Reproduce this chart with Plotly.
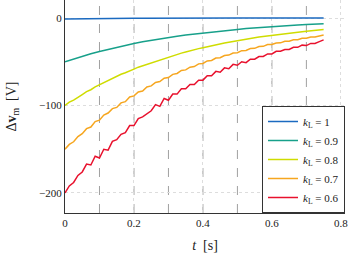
import plotly.graph_objects as go

# coarse time base (s)
t_coarse = [round(0.025 * i, 4) for i in range(31)]
# fine time base (s)
t_fine = [round(0.0125 * i, 4) for i in range(61)]

dv_k10 = [-1.0, -0.8, -0.6, -0.5, -0.4, -0.3, -0.3, -0.2, -0.2, -0.2, -0.1, -0.1, -0.1, -0.1, 0.0, 0.0,
          0.0, 0.0, 0.0, 0.0, 0.0, 0.0, 0.0, 0.0, 0.0, 0.0, 0.0, 0.0, 0.0, 0.0, 0.0]
dv_k09 = [-50, -46.7, -43.7, -40.8, -38.2, -35.7, -33.3, -31.2, -29.1, -27.2, -25.4, -23.8, -22.2, -20.8,
          -19.4, -18.2, -17.0, -15.9, -14.8, -13.9, -13.0, -12.1, -11.3, -10.6, -9.9, -9.2, -8.6, -8.1,
          -7.5, -7.1, -6.6]
dv_k08 = [-100.0, -96.2, -93.8, -90.2, -87.5, -84.2, -82.0, -78.8, -76.4, -73.6, -71.6, -68.8, -66.9, -64.3,
          -62.6, -60.1, -58.4, -56.2, -54.6, -52.5, -50.9, -49.0, -47.6, -45.9, -44.5, -43.0, -41.6, -40.1,
          -38.9, -37.4, -36.4, -35.0, -33.9, -32.7, -31.7, -30.6, -29.6, -28.5, -27.7, -26.7, -25.9, -24.9,
          -24.2, -23.3, -22.6, -21.8, -21.1, -20.4, -19.8, -19.1, -18.5, -17.8, -17.3, -16.7, -16.1, -15.6,
          -15.1, -14.6, -14.1, -13.6, -13.2]
dv_k07 = [-150, -144.5, -141.5, -135.5, -132.2, -126.5, -124.6, -118.4, -116.8, -111.0, -108.6, -103.6,
          -102.2, -97.0, -95.6, -90.2, -89.0, -84.6, -83.4, -78.8, -77.6, -73.6, -72.7, -68.8, -68.0, -64.4,
          -63.4, -60.0, -59.3, -56.2, -55.5, -52.4, -51.9, -49.0, -48.5, -45.8, -45.3, -42.8, -42.4, -40.0,
          -39.6, -37.3, -37.0, -34.9, -34.7, -32.6, -32.4, -30.4, -30.3, -28.5, -28.4, -26.6, -26.6, -24.9,
          -24.8, -23.2, -23.2, -21.7, -21.6, -20.2, -19.4]
dv_k06 = [-200, -192, -188, -180, -176, -167, -168, -158, -160, -150, -151, -141, -139, -133, -131, -123,
          -123, -115, -113, -109, -106, -99, -101, -92, -94, -87, -87, -81, -81, -76, -76, -71, -71, -66, -66,
          -61, -62, -57, -58, -53, -54, -50, -51, -47, -47, -44, -44, -41, -41, -38, -38, -36, -36, -33.5, -33.5,
          -31, -31.5, -29, -29, -27, -25]

event_times = [0.1, 0.2, 0.3, 0.4, 0.5, 0.6, 0.7]

series = [
    ("<i>k</i><sub>L</sub> = 1", t_coarse, dv_k10, "#1b6ac0"),
    ("<i>k</i><sub>L</sub> = 0.9", t_coarse, dv_k09, "#17a08a"),
    ("<i>k</i><sub>L</sub> = 0.8", t_fine, dv_k08, "#cfdc00"),
    ("<i>k</i><sub>L</sub> = 0.7", t_fine, dv_k07, "#f6a61f"),
    ("<i>k</i><sub>L</sub> = 0.6", t_fine, dv_k06, "#e8112d"),
]

FONT = "Liberation Serif"

fig = go.Figure()
for name, tx, vy, col in series:
    fig.add_trace(go.Scatter(x=tx, y=vy, mode="lines", name=name,
                             line=dict(color=col, width=1.5)))

for et in event_times:
    fig.add_vline(x=et, line=dict(color="#a0a0a0", width=1, dash="dash"), layer="below")

fig.update_layout(
    width=355, height=258,
    margin=dict(l=65, r=10, t=0, b=45, autoexpand=False),
    plot_bgcolor="white", paper_bgcolor="white",
    font=dict(family=FONT, size=12, color="#222"),
    showlegend=True,
    legend=dict(x=1, y=0, xanchor="right", yanchor="bottom",
                bordercolor="#333", borderwidth=1, bgcolor="white",
                font=dict(family=FONT, size=11), itemwidth=30,
                tracegroupgap=0),
    xaxis=dict(range=[0, 0.812], tickvals=[0, 0.2, 0.4, 0.6, 0.8],
               ticktext=["0", "0.2", "0.4", "0.6", "0.8"], automargin=False,
               showgrid=True, gridcolor="#dddddd", griddash="dot", gridwidth=1,
               showline=True, linecolor="#333", linewidth=1, ticks="",
               zeroline=False,
               title=dict(text="<i>t</i>  [s]", font=dict(size=14), standoff=11),
               tickfont=dict(size=11)),
    yaxis=dict(range=[-222.9, 20.6], tickvals=[0, -100, -200], automargin=False,
               showgrid=True, gridcolor="#dddddd", griddash="dot", gridwidth=1,
               showline=True, linecolor="#333", linewidth=1, ticks="",
               zeroline=False,
               title=dict(text="Δ<b>v</b><sub>m</sub>  [V]", font=dict(size=14), standoff=19),
               tickfont=dict(size=11)),
)

fig.write_html("out.html", config={"displayModeBar": False},
               post_script="document.body.style.margin='0';")
